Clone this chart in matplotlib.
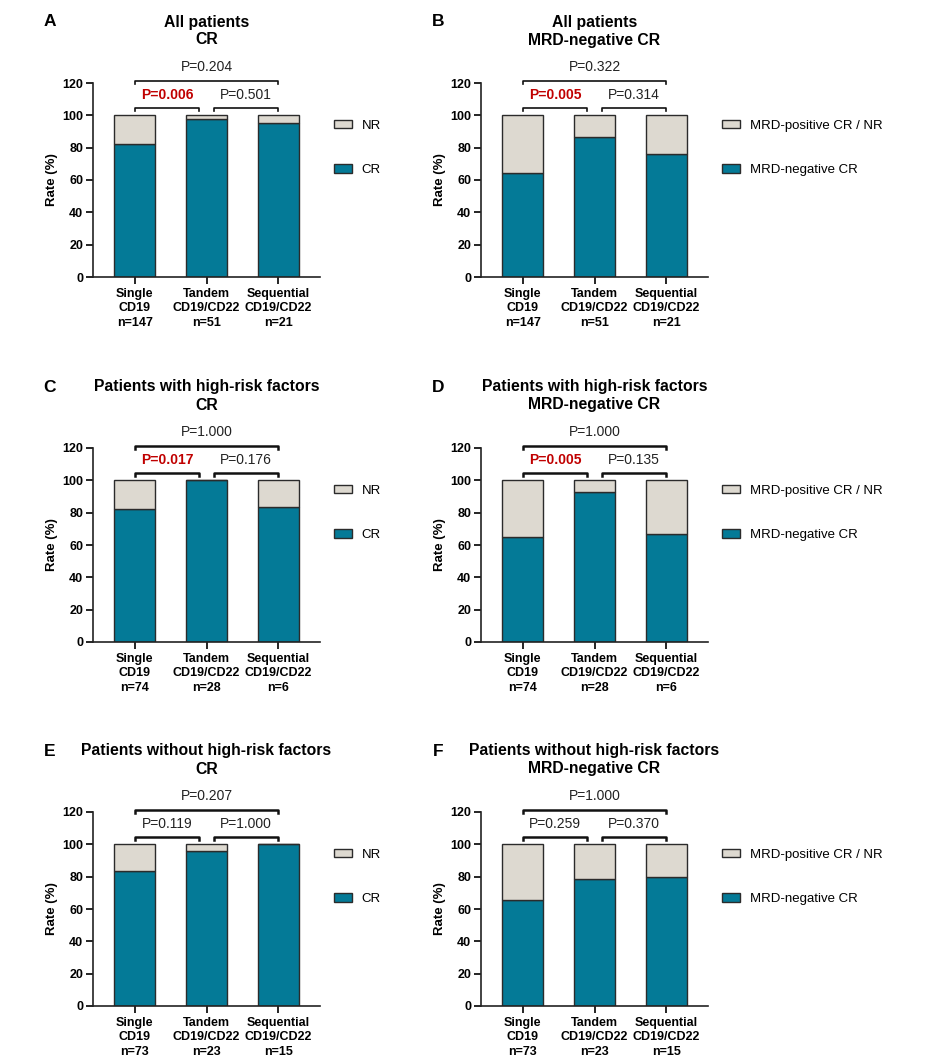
import numpy as np
import matplotlib.pyplot as plt

plt.rcParams['font.family'] = ['Liberation Sans', 'Noto Sans CJK SC']

groups = ["Single\nCD19", "Tandem\nCD19/CD22", "Sequential\nCD19/CD22"]
n_all = [147, 51, 21]
n_high = [74, 28, 6]
n_low = [73, 23, 15]

# rate (%) of the lower (teal) part of each bar
cr_all = [82.3, 98.0, 95.2]
mrdneg_all = [64.6, 86.3, 76.2]
cr_high = [82.4, 100.0, 83.3]
mrdneg_high = [64.9, 92.9, 66.7]
cr_low = [83.6, 95.7, 100.0]
mrdneg_low = [65.8, 78.3, 80.0]

# p values: single vs tandem, tandem vs sequential, single vs sequential
p_A = [0.006, 0.501, 0.204]
p_B = [0.005, 0.314, 0.322]
p_C = [0.017, 0.176, 1.000]
p_D = [0.005, 0.135, 1.000]
p_E = [0.119, 1.000, 0.207]
p_F = [0.259, 0.370, 1.000]

cr_labels = ["CR", "NR"]
mrd_labels = ["MRD-negative CR", "MRD-positive CR / NR"]

teal = "#047A97"
light = "#DDD9D0"
edge = "#2b2b2b"
red = "#C00000"

fig = plt.figure(figsize=(9.3, 10.6), dpi=100)

W, H = 930, 1060
col_left = [93, 481]
row_top = [83, 448, 812]
ax_w, ax_h = 227, 194


def bracket(ax, x0, x1, y, p, lw, dy):
    ax.plot([x0, x0, x1, x1], [y - 2, y, y, y - 2], color="#111", lw=lw, clip_on=False)
    sig = p < 0.05
    ax.text((x0 + x1) / 2, y + dy, "P=%.3f" % p, ha="center", va="center",
            fontsize=10, color=red if sig else "#222",
            fontweight="bold" if sig else "normal", clip_on=False)


def draw(ax, vals, ns, pvals, labels, letter, title, lw_br):
    x = np.arange(3)
    rest = [100 - v for v in vals]
    b1 = ax.bar(x, vals, width=0.57, color=teal, edgecolor=edge, linewidth=1)
    b2 = ax.bar(x, rest, bottom=vals, width=0.57, color=light, edgecolor=edge, linewidth=1)

    ax.set_xlim(-0.58, 2.58)
    ax.set_ylim(0, 120)
    ax.set_yticks(np.arange(0, 121, 20))
    ax.set_xticks(x, [g + "\nn=%d" % n for g, n in zip(groups, ns)],
                  fontweight="bold", fontsize=9, linespacing=1.25)
    for lbl in ax.get_yticklabels():
        lbl.set_fontweight("bold")
    ax.tick_params(direction="out", length=5, width=1.2, labelsize=9, pad=2)
    ax.tick_params(axis="x", labelsize=9, pad=3)
    for s in ["top", "right"]:
        ax.spines[s].set_visible(False)
    for s in ["left", "bottom"]:
        ax.spines[s].set_linewidth(1.2)
        ax.spines[s].set_color("#222")
    ax.set_ylabel("Rate (%)", fontweight="bold", fontsize=9.5, labelpad=3)

    bracket(ax, 0, 0.9, 104.5, pvals[0], lw_br, 7.8)
    bracket(ax, 1.1, 2, 104.5, pvals[1], lw_br, 7.8)
    bracket(ax, 0, 2, 121.2, pvals[2], lw_br, 8.9)

    ax.legend([b2, b1], [labels[1], labels[0]], loc="upper left",
              bbox_to_anchor=(1.062, 0.81), frameon=False, fontsize=9.5,
              handlelength=1.35, handleheight=0.6, handletextpad=0.75,
              labelspacing=2.45, borderpad=0, borderaxespad=0)

    ax.text(0.5, 1 + 52 / ax_h, title, transform=ax.transAxes, ha="center",
            va="center", fontsize=11.3, fontweight="bold", linespacing=1.25)
    ax.text((50 - 93) / ax_w, 1 + 61 / ax_h, letter, transform=ax.transAxes,
            ha="center", va="center", fontsize=12.5, fontweight="bold")


panels = [
    (0, 0, cr_all, n_all, p_A, cr_labels, "A", "All patients\nCR", 1.2),
    (0, 1, mrdneg_all, n_all, p_B, mrd_labels, "B", "All patients\nMRD-negative CR", 1.2),
    (1, 0, cr_high, n_high, p_C, cr_labels, "C", "Patients with high-risk factors\nCR", 1.8),
    (1, 1, mrdneg_high, n_high, p_D, mrd_labels, "D", "Patients with high-risk factors\nMRD-negative CR", 1.8),
    (2, 0, cr_low, n_low, p_E, cr_labels, "E", "Patients without high-risk factors\nCR", 1.8),
    (2, 1, mrdneg_low, n_low, p_F, mrd_labels, "F", "Patients without high-risk factors\nMRD-negative CR", 1.8),
]

for r, c, vals, ns, pv, labels, letter, title, lw in panels:
    ax = fig.add_axes([col_left[c] / W, 1 - (row_top[r] + ax_h) / H, ax_w / W, ax_h / H])
    draw(ax, vals, ns, pv, labels, letter, title, lw)

fig.savefig("out.png", dpi=100)
